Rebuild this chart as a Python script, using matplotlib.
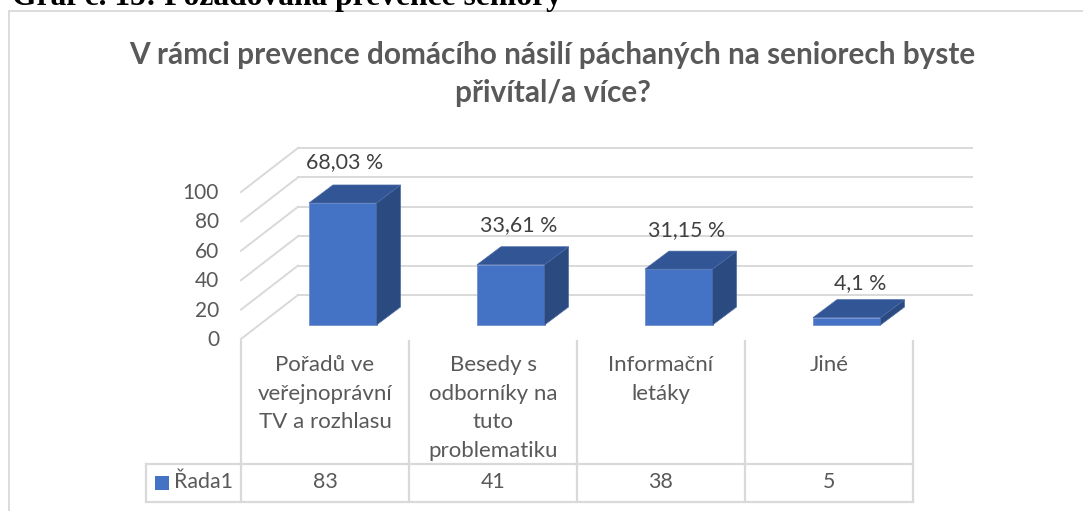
import matplotlib
matplotlib.use("Agg")
import matplotlib.pyplot as plt
from matplotlib.patches import Polygon, Rectangle
from matplotlib.transforms import Affine2D

categories = ["Pořadů ve\nveřejnoprávní\nTV a rozhlasu", "Besedy s\nodborníky na\ntuto\nproblematiku", "Informační\nletáky", "Jiné"]
counts = [83, 41, 38, 5]
percent_labels = ["68,03 %", "33,61 %", "31,15 %", "4,1 %"]
yticks = [0, 20, 40, 60, 80, 100]
series_name = "Řada1"
heading = "Graf č. 15: Požadovaná prevence seniory"
title = "V rámci prevence domácího násilí páchaných na seniorech byste\npřivítal/a více?"

W, H = 1083, 511
plt.rcParams['font.family'] = ['Lato', 'DejaVu Sans']
fig = plt.figure(figsize=(W/100, H/100), dpi=100, facecolor='white')

# value axes: x in categories, y in values, front plane of the 3D chart
L, R, Y0, Y100 = 241, 913, 339, 192
ax = fig.add_axes([L/W, 1-Y0/H, (R-L)/W, (Y0-Y100)/H])
ax.set_xlim(0, 4); ax.set_ylim(0, 100); ax.axis('off')
XU = (R-L)/4; YU = (Y0-Y100)/100
def P(x, v, dx=0, dy=0):
    return (x + dx/XU, v + dy/YU)

# pixel overlay for frame and text
px = Affine2D().scale(1, -1).translate(0, H)
GRID = '#d9d9d9'; TXT = '#595959'
def pline(xs, ys, c=GRID, lw=1.4, z=1):
    fig.add_artist(plt.Line2D(xs, ys, transform=px, color=c, lw=lw, zorder=z))

# frame
pline([8.5, 8.5], [511, 10.5], '#d9d9d9', 1.3)
pline([8.5, 1083], [10.5, 10.5], '#d9d9d9', 1.3)

fig.text(12, 5, heading, transform=px, family='Liberation Serif', weight='bold', fontsize=22.7, color='black', va='baseline', zorder=5)
fig.text(552.5, 74, title, transform=px, ha='center', va='center', weight='bold', fontsize=21.4, color=TXT, linespacing=1.46)

# grid
DX, DY = 57, 44
back_end = (972 - L) / XU
for t in yticks:
    ax.plot(*zip(P(0, t), P(0, t, DX, DY)), color=GRID, lw=1.4, clip_on=False, zorder=1)
    ax.plot(*zip(P(0, t, DX, DY), P(back_end, t, 0, DY)), color=GRID, lw=1.4, clip_on=False, zorder=1)
    ax.text(*P(0, t, -22, -1), str(t), ha='right', va='center', fontsize=15, color=TXT)

# bars
FRONT, SIDE, TOP = '#4472c4', '#2b4a80', '#325596'
BW, BDX, BDY, BX, BY = 67.5, 24, 18, 68, 14
for i, v in enumerate(counts):
    x0 = i
    a = P(x0, 0, BX, BY); b = P(x0, 0, BX+BW, BY); c = P(x0, v, BX+BW, BY); d = P(x0, v, BX, BY)
    ax.add_patch(Polygon([a, b, c, d], fc=FRONT, ec='#6f90d0', lw=0.6, zorder=3, clip_on=False))
    ax.add_patch(Polygon([b, P(x0, 0, BX+BW+BDX, BY+BDY), P(x0, v, BX+BW+BDX, BY+BDY), c], fc=SIDE, ec='#4a6aa5', lw=0.5, zorder=3, clip_on=False))
    ax.add_patch(Polygon([d, c, P(x0, v, BX+BW+BDX, BY+BDY), P(x0, v, BX+BDX, BY+BDY)], fc=TOP, ec='#4a6aa5', lw=0.5, zorder=3, clip_on=False))

# data labels
lab_dx = [104, 109.5, 109.5, 115]; lab_dy = [55, 54, 53.5, 49]
for i, v in enumerate(counts):
    ax.text(*P(i, v, lab_dx[i], lab_dy[i]), percent_labels[i], ha='center', va='center', fontsize=15.4, color='#404040', zorder=4, clip_on=False)

# data table
T_TOP, T_BOT, T_L = 464, 502, 146
for i in range(len(counts)+1):
    x = L + i*XU
    pline([x, x], [341, T_BOT], GRID, 1.6)
pline([T_L, R], [T_TOP, T_TOP], GRID, 1.6)
pline([T_L, R], [T_BOT, T_BOT], GRID, 1.6)
pline([T_L, T_L], [T_TOP, T_BOT], GRID, 1.6)
for i, (cat, v) in enumerate(zip(categories, counts)):
    cx = L + (i+0.5)*XU
    fig.text(cx, 355, cat, transform=px, ha='center', va='top', fontsize=16, color=TXT, linespacing=1.54)
    fig.text(cx, 482, str(v), transform=px, ha='center', va='center', fontsize=15.4, color=TXT)
fig.add_artist(Rectangle((155, 476), 14, 14, transform=px, fc=FRONT, ec='none'))
fig.text(174, 482, series_name, transform=px, ha='left', va='center', fontsize=15.4, color=TXT)

fig.savefig('out.png', dpi=100)
